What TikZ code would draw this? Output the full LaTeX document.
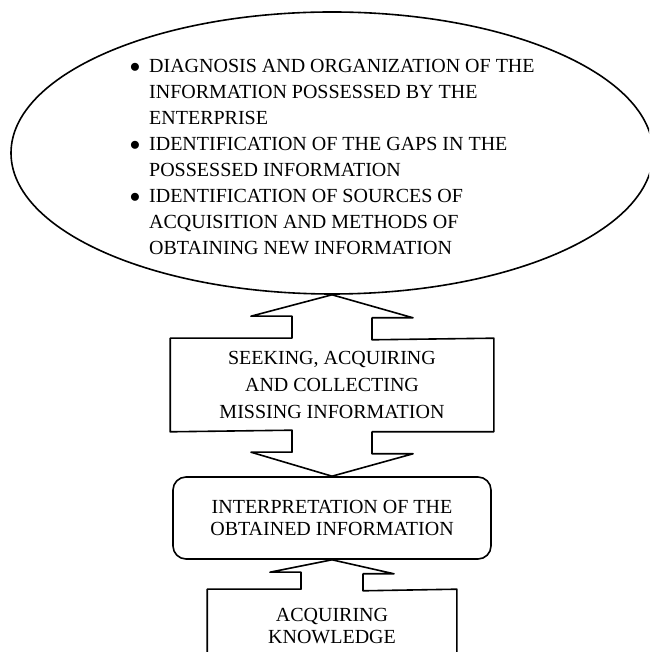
\documentclass[tikz,border=0pt]{standalone}
\usepackage{fontspec}
\setmainfont{Liberation Serif}
\usetikzlibrary{positioning, shapes.geometric, calc}

\begin{document}
\begin{tikzpicture}[x=1pt,y=1pt,on grid,line width=1.6pt,line join=round,
	every node/.style={font=\fontsize{20}{22}\selectfont, align=center},
	blk/.style={rectangle, inner sep=0pt}]
	\clip (0,0) rectangle (649,652);
	
	\node[ellipse, draw, inner sep=0pt, minimum width=642pt, minimum height=282pt] (goals) at (332,499) {};
	\node[anchor=west, inner sep=0pt, font=\fontsize{20}{26}\selectfont] (list) at (129,494) {%
		\begin{tabular}{@{}l@{\hspace{9pt}}l@{}}
			$\bullet$ & DIAGNOSIS AND ORGANIZATION OF THE\\
			& INFORMATION POSSESSED BY THE\\
			& ENTERPRISE\\
			$\bullet$ & IDENTIFICATION OF THE GAPS IN THE\\
			& POSSESSED INFORMATION\\
			$\bullet$ & IDENTIFICATION OF SOURCES OF\\
			& ACQUISITION AND METHODS OF\\
			& OBTAINING NEW INFORMATION
		\end{tabular}};
	
	\node[blk, minimum width=322pt, minimum height=92pt, below=232pt of goals,
		font=\fontsize{20}{27}\selectfont] (seek) {SEEKING, ACQUIRING\\AND COLLECTING\\MISSING INFORMATION};
	\node[blk, draw, rounded corners=13pt, minimum width=318pt, minimum height=82pt, below=133pt of seek] (interp) {INTERPRETATION OF THE\\OBTAINED INFORMATION};
	\node[blk, minimum width=248pt, minimum height=72pt, below=108pt of interp] (know) {ACQUIRING\\KNOWLEDGE};
	
	% double block arrow through the seeking box
	\draw (goals.south) -- ++(81,-23) -- ++(-41,0) -- ++(0,-22) -- (seek.north east)
	-- (seek.south east) -- ($(seek.south)+(40,0)$) -- ++(0,-22) -- ++(41,0)
	-- (interp.north) -- ++(-81,24) -- ++(41,0) -- ++(0,22) -- (seek.south west)
	-- (seek.north west) -- ($(seek.north)+(-40,0)$) -- ++(0,22) -- ++(-41,0) -- cycle;
	
	% knowledge box, open at the bottom
	\draw ($(know.south west)+(0,-5)$) -- (know.north west) -- ($(know.north)+(-31,0)$)
	-- ++(0,17) -- ++(-31,0) -- (interp.south) -- ++(62,-14) -- ++(-31,0) -- ++(0,-17)
	-- (know.north east) -- ($(know.south east)+(0,-5)$);
\end{tikzpicture}
\end{document}
